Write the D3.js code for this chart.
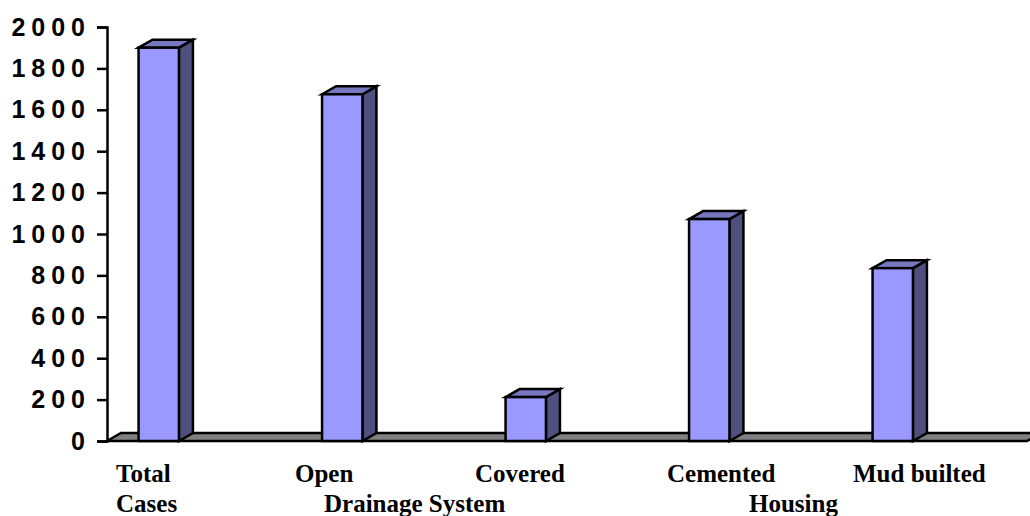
<!DOCTYPE html>
<html>
<head>
<meta charset="utf-8">
<script src="https://cdn.jsdelivr.net/npm/d3@7"></script>
<style>
  html, body { margin: 0; padding: 0; background: #fff; }
  svg { display: block; }
  .yaxis text { font-family: "Liberation Sans", Arial, sans-serif; font-weight: bold; font-size: 25px; letter-spacing: 6px; fill: #000; }
  .label { font-family: "Liberation Serif", "Times New Roman", serif; font-weight: bold; font-size: 25px; fill: #000; }
</style>
</head>
<body>
<svg id="chart" width="1030" height="516"></svg>
<script>
const categories = ["Total Cases", "Open", "Covered", "Cemented", "Mud builted"];
const values = [1900, 1675, 212, 1072, 835];
const yTicks = [0, 200, 400, 600, 800, 1000, 1200, 1400, 1600, 1800, 2000];

// labels below the bars, they sit in two rows and not quite under the bars
const topLabels = ["Total", "Open", "Covered", "Cemented", "Mud builted"];
const topLabelX = [116, 295, 475, 667, 853];
const bottomLabels = ["Cases", "Drainage System", "Housing"];
const bottomLabelX = [116, 324, 749];

const width = 1030;
const height = 516;
const depth = { x: 14, y: 8 };

const svg = d3.select("#chart");

const x = d3.scaleBand()
  .domain(categories)
  .range([67, 984.5])
  .paddingInner(0.78)
  .paddingOuter(0.39);

const y = d3.scaleLinear()
  .domain([0, 2000])
  .range([441, 27]);

// floor
const x0 = 107;
svg.append("path")
  .attr("d", `M${x0},${y(0)} L${x0 + depth.x},${y(0) - depth.y} L${width + 12},${y(0) - depth.y} L${width - 3},${y(0)} Z`)
  .attr("fill", "#808080")
  .attr("stroke", "#000")
  .attr("stroke-width", 2.5);

// y axis
svg.append("g")
  .attr("class", "yaxis")
  .attr("transform", `translate(${x0},0)`)
  .call(d3.axisLeft(y).tickValues(yTicks).tickSize(10).tickPadding(6).tickFormat(d3.format("d")))
  .call((g) => g.select(".domain").attr("stroke", "#000").attr("stroke-width", 2.5))
  .call((g) => g.selectAll("line").attr("stroke", "#000").attr("stroke-width", 2.5));

// bars: front, top and side faces
const bars = svg.append("g")
  .selectAll("g")
  .data(categories)
  .enter()
  .append("g")
  .attr("stroke", "#000")
  .attr("stroke-width", 2.5)
  .attr("stroke-linejoin", "miter");

const barLeft = (d) => x(d);
const barRight = (d) => x(d) + x.bandwidth();
const barTop = (d, i) => y(values[i]);

bars.append("path")
  .attr("fill", "#50507f")
  .attr("d", (d, i) => `M${barRight(d)},${barTop(d, i)} L${barRight(d) + depth.x},${barTop(d, i) - depth.y} L${barRight(d) + depth.x},${y(0) - depth.y} L${barRight(d)},${y(0)} Z`);

bars.append("path")
  .attr("fill", "#7777bf")
  .attr("d", (d, i) => `M${barLeft(d)},${barTop(d, i)} L${barLeft(d) + depth.x},${barTop(d, i) - depth.y} L${barRight(d) + depth.x},${barTop(d, i) - depth.y} L${barRight(d)},${barTop(d, i)} Z`);

bars.append("rect")
  .attr("fill", "#9999ff")
  .attr("x", barLeft)
  .attr("y", barTop)
  .attr("width", x.bandwidth())
  .attr("height", (d, i) => y(0) - barTop(d, i));

// category labels
svg.append("g")
  .selectAll("text")
  .data(topLabels)
  .enter()
  .append("text")
  .attr("class", "label")
  .attr("x", (d, i) => topLabelX[i])
  .attr("y", 482)
  .text((d) => d);

svg.append("g")
  .selectAll("text")
  .data(bottomLabels)
  .enter()
  .append("text")
  .attr("class", "label")
  .attr("x", (d, i) => bottomLabelX[i])
  .attr("y", 512)
  .text((d) => d);
</script>
</body>
</html>
